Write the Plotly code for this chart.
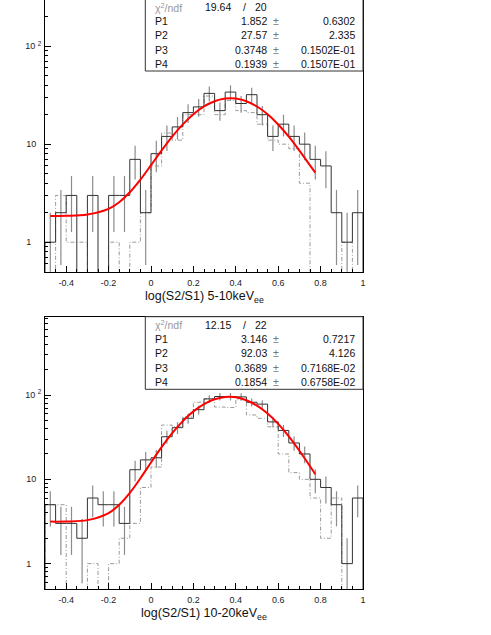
import numpy as np
import plotly.graph_objects as go

# ---------------- data ----------------
bin_edges = np.round(np.linspace(-0.5, 1.0, 31), 3)

counts_5_10 = [1, 2, 3, 0, 3, 0, 3, 3, 7, 2, 8, 12, 15, 21, 24,
               33, 22, 34, 26, 32, 20, 12, 16, 12, 10, 7, 6, 2, 1, 2]
ref_5_10 = [0, 3, 1, 1, 0, 0, 1, 0, 1, 2, 6, 13, 11, 20, 20,
            31, 20, 28, 22, 21, 16, 11, 10, 9, 4, 0, 0, 0, 1, 0]

counts_10_20 = [5, 3, 3, 2, 6, 5, 5, 3, 13, 17, 18, 32, 41, 53, 67,
                90, 96, 96, 95, 82, 78, 48, 38, 27, 20, 10, 8, 5, 1, 6]
ref_10_20 = [5, 5, 0, 0, 1, 0, 1, 2, 3, 8, 14, 44, 42, 55, 82,
             90, 72, 71, 88, 58, 53, 42, 20, 12, 10, 6, 2, 6, 0, 0]

fit_x = [-0.475, -0.4, -0.3, -0.2, -0.15, -0.1, -0.05, 0.0, 0.05, 0.1, 0.15,
         0.2, 0.25, 0.3, 0.35, 0.375, 0.4, 0.45, 0.5, 0.55, 0.6, 0.65, 0.7,
         0.75, 0.775]
fit_5_10 = [1.85, 1.86, 1.92, 2.19, 2.56, 3.23, 4.35, 6.11, 8.63, 11.95, 15.93,
            20.22, 24.27, 27.45, 29.20, 29.42, 29.19, 27.43, 24.23, 20.19, 15.90,
            11.92, 8.61, 6.09, 5.13]
fit_10_20 = [3.15, 3.16, 3.28, 3.98, 4.98, 6.90, 10.30, 15.86, 24.12, 35.29, 48.97,
             63.92, 78.07, 89.03, 94.70, 95.13, 93.89, 86.78, 74.82, 60.26, 45.47,
             32.31, 21.82, 14.28, 11.50]

par_names = ["P1", "P2", "P3", "P4"]
chi2_5_10 = ["19.64", "20"]
val_5_10 = ["1.852", "27.57", "0.3748", "0.1939"]
err_5_10 = ["0.6302", "2.335", "0.1502E-01", "0.1507E-01"]
chi2_10_20 = ["12.15", "22"]
val_10_20 = ["3.146", "92.03", "0.3689", "0.1854"]
err_10_20 = ["0.7217", "4.126", "0.7168E-02", "0.6758E-02"]

x_tickvals = [-0.4, -0.2, 0, 0.2, 0.4, 0.6, 0.8, 1]
x_ticktext = ["-0.4", "-0.2", "0", "0.2", "0.4", "0.6", "0.8", "1"]
titles = ["log(S2/S1) 5-10keV<sub>ee</sub>", "log(S2/S1) 10-20keV<sub>ee</sub>"]

# ---------------- geometry helpers ----------------
W, H = 491, 635
ML, MR, MT, MB = 45, 128, 0, 46
PW, PH = W - ML - MR, H - MT - MB
FLOOR = 0.01


def X(px):
    return (px - ML) / PW


def Y(py):
    return (PH - py) / PH


FONT = "Liberation Sans, Arial, Helvetica, sans-serif"

fig = go.Figure()


def add_panel(counts, ref, fit_y, xa, ya):
    centers = (bin_edges[:-1] + bin_edges[1:]) / 2
    # reference (dash-dot) histogram
    rx = [bin_edges[0]] + list(bin_edges) + [bin_edges[-1]]
    ry = [FLOOR] + [max(v, FLOOR) for v in ref] + [max(ref[-1], FLOOR), FLOOR]
    fig.add_trace(go.Scatter(x=rx, y=ry, mode="lines", line_shape="hv",
                             line=dict(color="#9a9a9a", width=1, dash="4px,2px,1px,2px"),
                             xaxis=xa, yaxis=ya, showlegend=False, hoverinfo="skip"))
    # error bars
    ex, ey = [], []
    for c, n in zip(centers, counts):
        if n > 0:
            s = np.sqrt(n)
            lo = n - s if n - s > 0 else FLOOR
            ex += [c, c, None]
            ey += [lo, n + s, None]
    fig.add_trace(go.Scatter(x=ex, y=ey, mode="lines",
                             line=dict(color="#8c8c8c", width=1.2),
                             xaxis=xa, yaxis=ya, showlegend=False, hoverinfo="skip"))
    # solid histogram
    sx = [bin_edges[0]] + list(bin_edges) + [bin_edges[-1]]
    sy = [FLOOR] + [max(v, FLOOR) for v in counts] + [max(counts[-1], FLOOR), FLOOR]
    fig.add_trace(go.Scatter(x=sx, y=sy, mode="lines", line_shape="hv",
                             line=dict(color="#333333", width=1),
                             xaxis=xa, yaxis=ya, showlegend=False, hoverinfo="skip"))
    # fit
    fig.add_trace(go.Scatter(x=fit_x, y=fit_y, mode="lines", line_shape="spline",
                             line=dict(color="#ff0000", width=2),
                             xaxis=xa, yaxis=ya, showlegend=False, hoverinfo="skip"))


add_panel(counts_5_10, ref_5_10, fit_5_10, "x", "y")
add_panel(counts_10_20, ref_10_20, fit_10_20, "x2", "y2")

nb = "\u00a0"
y_minor = [0.6, 0.7, 0.8, 0.9] + [k for k in range(2, 10)] + [10 * k for k in range(2, 10)] + [100 * k for k in range(2, 10)]


def xaxis_cfg(anchor, mirror):
    return dict(range=[-0.5, 1.0], anchor=anchor, showline=True, linecolor="#000",
                linewidth=1, mirror=mirror, showgrid=False, zeroline=False,
                automargin=False,
                tickmode="array", tickvals=x_tickvals, ticktext=x_ticktext,
                ticks="inside", ticklen=6, tickcolor="#000", tickwidth=1,
                tickfont=dict(family=FONT, size=9, color="#222"),
                ticklabelstandoff=2,
                minor=dict(tickmode="array", tickvals=[round(-0.5 + 0.05 * i, 3) for i in range(31)],
                           ticks="inside", ticklen=3, tickcolor="#000", showgrid=False))


def yaxis_cfg(anchor, domain, top):
    return dict(type="log", range=[-0.301, top], domain=domain, anchor=anchor,
                showline=True, linecolor="#000", linewidth=1, mirror=True,
                showgrid=False, zeroline=False, automargin=False,
                tickmode="array", tickvals=[1, 10, 100],
                ticktext=["1" + nb * 4, "10" + nb * 2, "10" + nb + "<sup>2</sup>"],
                ticks="inside", ticklen=6, tickcolor="#000", tickwidth=1,
                tickfont=dict(family=FONT, size=9, color="#222"),
                ticklabelstandoff=1,
                minor=dict(tickmode="array", tickvals=y_minor, ticks="inside",
                           ticklen=3, tickcolor="#000", showgrid=False))


top_domain = [(PH - 271.7) / PH, 1.0]
bot_domain = [0.0, (PH - 316.7) / PH]

fig.update_layout(
    width=W, height=H,
    margin=dict(l=ML, r=MR, t=MT, b=MB, pad=0, autoexpand=False),
    paper_bgcolor="white", plot_bgcolor="white",
    font=dict(family=FONT, color="#111"),
    xaxis=dict(domain=[0, 1], **xaxis_cfg("y", False)),
    yaxis=yaxis_cfg("x", top_domain, 2.471),
    xaxis2=dict(domain=[0, 1], **xaxis_cfg("y2", True)),
    yaxis2=yaxis_cfg("x2", bot_domain, 2.929),
)

shapes = []
annotations = []


def stats_box(top_px, bottom_px, rows_y, chi2, vals, errs):
    shapes.append(dict(type="rect", xref="paper", yref="paper",
                       x0=X(145.3), x1=1.0, y0=Y(bottom_px), y1=Y(top_px),
                       line=dict(color="#333", width=1), fillcolor="white", layer="above"))
    fs = 10.5
    # chi2 row
    annotations.append(dict(x=X(152.5), y=Y(rows_y[0]), xref="paper", yref="paper",
                            text="\u03c7<sup>2</sup>/ndf", showarrow=False, xanchor="left",
                            yanchor="middle", font=dict(family=FONT, size=fs, color="#999")))
    annotations.append(dict(x=X(233), y=Y(rows_y[0]), xref="paper", yref="paper",
                            text=chi2[0], showarrow=False, xanchor="right",
                            yanchor="middle", font=dict(family=FONT, size=fs, color="#111")))
    annotations.append(dict(x=X(244.3), y=Y(rows_y[0]), xref="paper", yref="paper",
                            text="/", showarrow=False, xanchor="center",
                            yanchor="middle", font=dict(family=FONT, size=fs, color="#111")))
    annotations.append(dict(x=X(269), y=Y(rows_y[0]), xref="paper", yref="paper",
                            text=chi2[1], showarrow=False, xanchor="right",
                            yanchor="middle", font=dict(family=FONT, size=fs, color="#111")))
    for i in range(4):
        yy = Y(rows_y[i + 1])
        annotations.append(dict(x=X(152.5), y=yy, xref="paper", yref="paper",
                                text=par_names[i], showarrow=False, xanchor="left",
                                yanchor="middle", font=dict(family=FONT, size=fs, color="#111")))
        annotations.append(dict(x=X(269), y=yy, xref="paper", yref="paper",
                                text=vals[i], showarrow=False, xanchor="right",
                                yanchor="middle", font=dict(family=FONT, size=fs, color="#111")))
        annotations.append(dict(x=X(276), y=yy, xref="paper", yref="paper",
                                text="\u00b1", showarrow=False, xanchor="center",
                                yanchor="middle", font=dict(family=FONT, size=fs, color="#777")))
        annotations.append(dict(x=X(357), y=yy, xref="paper", yref="paper",
                                text=errs[i], showarrow=False, xanchor="right",
                                yanchor="middle", font=dict(family=FONT, size=fs, color="#111")))


stats_box(-1.6, 71, [7, 21, 35.3, 50, 64.3], chi2_5_10, val_5_10, err_5_10)
stats_box(316.7, 389.3, [324.7, 338.7, 353, 367.7, 382], chi2_10_20, val_10_20, err_10_20)

for t, py in zip(titles, [296.5, 614]):
    annotations.append(dict(x=X(204), y=Y(py), xref="paper", yref="paper", text=t,
                            showarrow=False, xanchor="center", yanchor="middle",
                            font=dict(family=FONT, size=12.5, color="#111")))

fig.update_layout(shapes=shapes, annotations=annotations)
fig.write_html("out.html", config={"displayModeBar": False},
               post_script="document.body.style.margin='0';document.body.style.padding='0';")
